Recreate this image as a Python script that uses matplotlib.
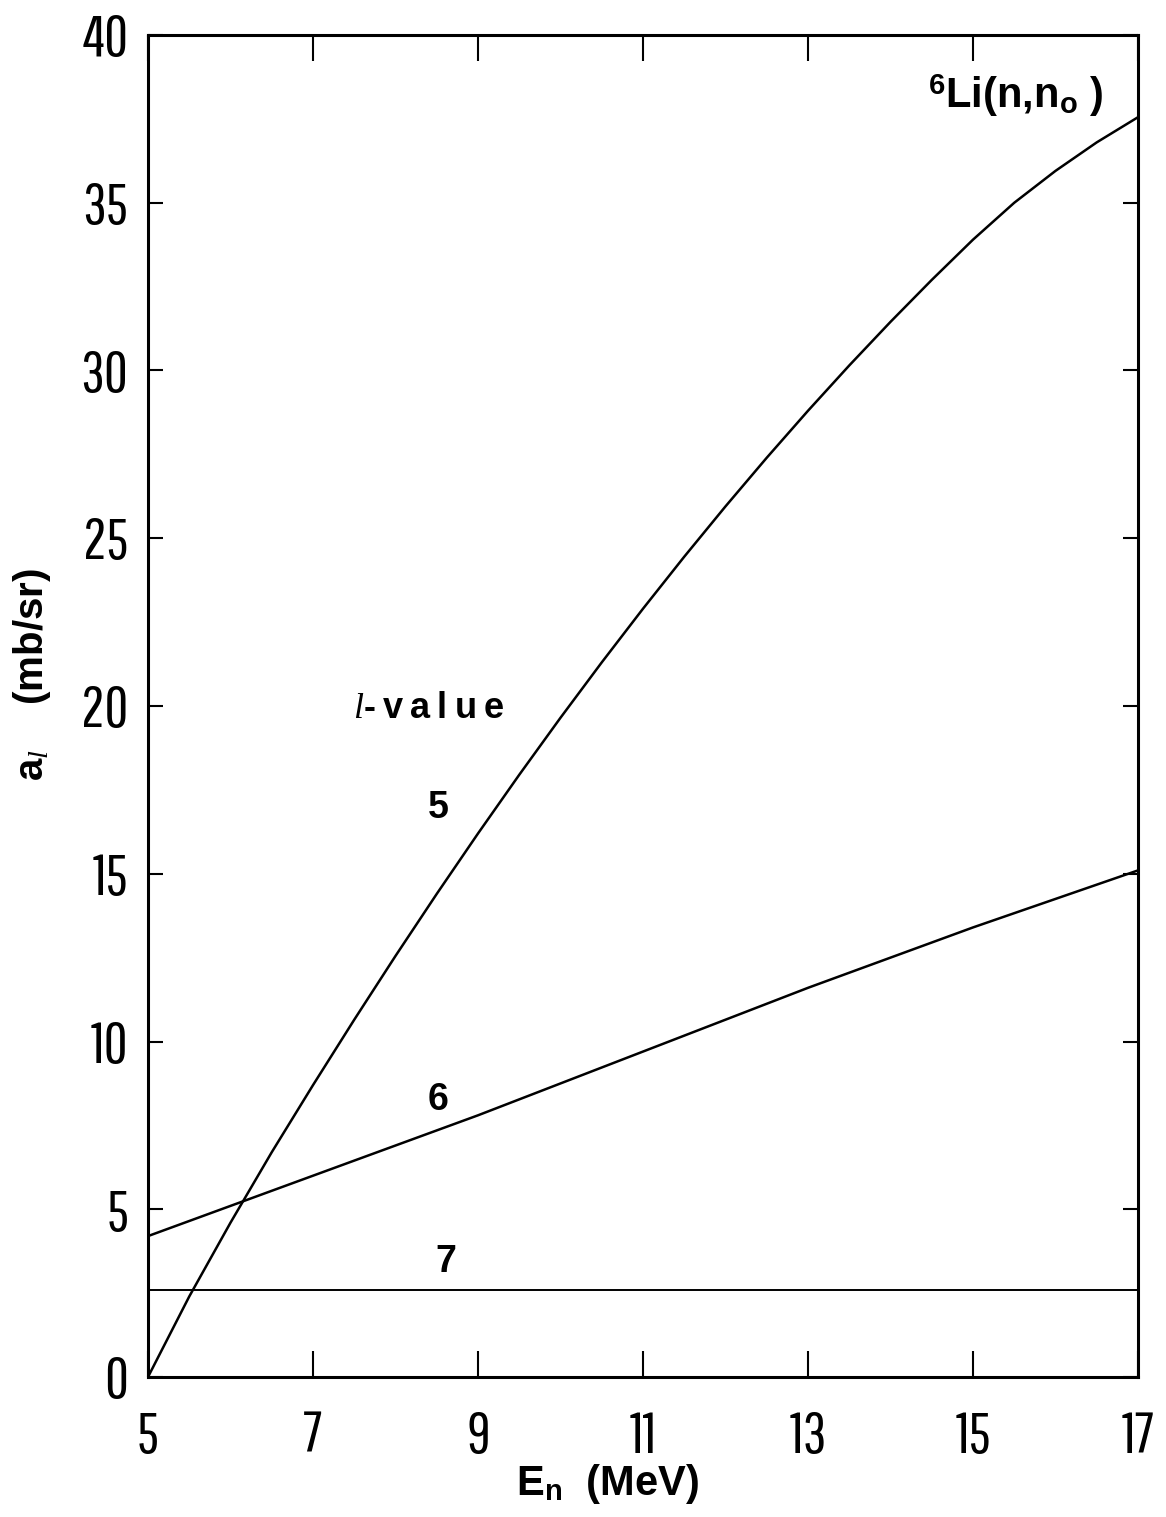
import matplotlib
matplotlib.use("Agg")
import matplotlib.pyplot as plt
from matplotlib import font_manager

# energies (MeV) and Legendre coefficients a_l (mb/sr)
energy = [5.0, 5.5, 6.0, 6.5, 7.0, 7.5, 8.0, 8.5, 9.0, 9.5, 10.0, 10.5, 11.0,
          11.5, 12.0, 12.5, 13.0, 13.5, 14.0, 14.5, 15.0, 15.5, 16.0, 16.5, 17.0]
a5 = [0.0, 2.4, 4.6, 6.7, 8.7, 10.65, 12.55, 14.4, 16.2, 17.95, 19.65, 21.3, 22.9,
      24.45, 25.95, 27.4, 28.8, 30.15, 31.45, 32.7, 33.9, 35.0, 35.95, 36.8, 37.55]
energy6 = [5, 6, 7, 8, 9, 10, 11, 12, 13, 14, 15, 16, 17]
a6 = [4.2, 5.1, 6.0, 6.9, 7.8, 8.75, 9.7, 10.65, 11.6, 12.5, 13.4, 14.25, 15.1]
energy7 = [5, 17]
a7 = [2.6, 2.6]

xticks = [5, 7, 9, 11, 13, 15, 17]
yticks = [0, 5, 10, 15, 20, 25, 30, 35, 40]

names = {f.name for f in font_manager.fontManager.ttflist}
tick_font = "DejaVu Sans"
for cand in ["Pathway Gothic One", "Oswald", "Roboto Condensed", "Archivo Narrow"]:
    if cand in names:
        tick_font = cand
        break

plt.rcParams["font.family"] = ["Liberation Sans", "DejaVu Sans"]
plt.rcParams["mathtext.fontset"] = "custom"
plt.rcParams["mathtext.rm"] = "Liberation Sans:bold"
plt.rcParams["mathtext.bf"] = "Liberation Sans:bold"
plt.rcParams["mathtext.it"] = "Liberation Serif:italic"

fig = plt.figure(figsize=(11.66, 15.17), dpi=100)
ax = fig.add_axes([148 / 1166, 1 - 1377 / 1517, (1138 - 148) / 1166, (1377 - 35) / 1517])

ax.plot(energy, a5, color="black", lw=1.8)
ax.plot(energy6, a6, color="black", lw=1.8)
ax.plot(energy7, a7, color="black", lw=1.4)

ax.set_xlim(5, 17)
ax.set_ylim(0, 40)
ax.set_xticks(xticks)
ax.set_yticks(yticks)
ax.set_xticklabels([str(v) for v in xticks], fontfamily=tick_font, fontsize=42)
ax.set_yticklabels([str(v) for v in yticks], fontfamily=tick_font, fontsize=42)

ax.tick_params(axis="x", direction="in", top=True, length=19, width=1.5, pad=24)
ax.tick_params(axis="y", direction="in", right=True, length=11, width=1.5, pad=14)
for s in ax.spines.values():
    s.set_linewidth(2.2)

# curve labels
ax.text(7.49, 19.94, "$\\mathit{l}$-\u2009v\u2009a\u2009l\u2009u\u2009e", fontsize=26,
        fontweight="bold", ha="left", va="center")
ax.text(8.52, 16.96, "5", fontsize=27, fontweight="bold", ha="center", va="center")
ax.text(8.52, 8.26, "6", fontsize=27, fontweight="bold", ha="center", va="center")
ax.text(8.61, 3.43, "7", fontsize=27, fontweight="bold", ha="center", va="center")

fig.text(928 / 1166, 1 - 108 / 1517, "$^{6}$Li(n,n$_{\\mathrm{o}}$ )", fontsize=30,
         fontweight="bold", ha="left", va="baseline")

fig.text(608 / 1166, 1 - 1495 / 1517, "E$_{\\mathrm{n}}$  (MeV)", fontsize=30,
         fontweight="bold", ha="center", va="baseline")
fig.text(32 / 1166, 1 - 675 / 1517, "a$_{\\mathit{l}}$    (mb/sr)", fontsize=29,
         fontweight="bold", ha="center", va="center", rotation=90)

fig.savefig("out.png", dpi=100)
